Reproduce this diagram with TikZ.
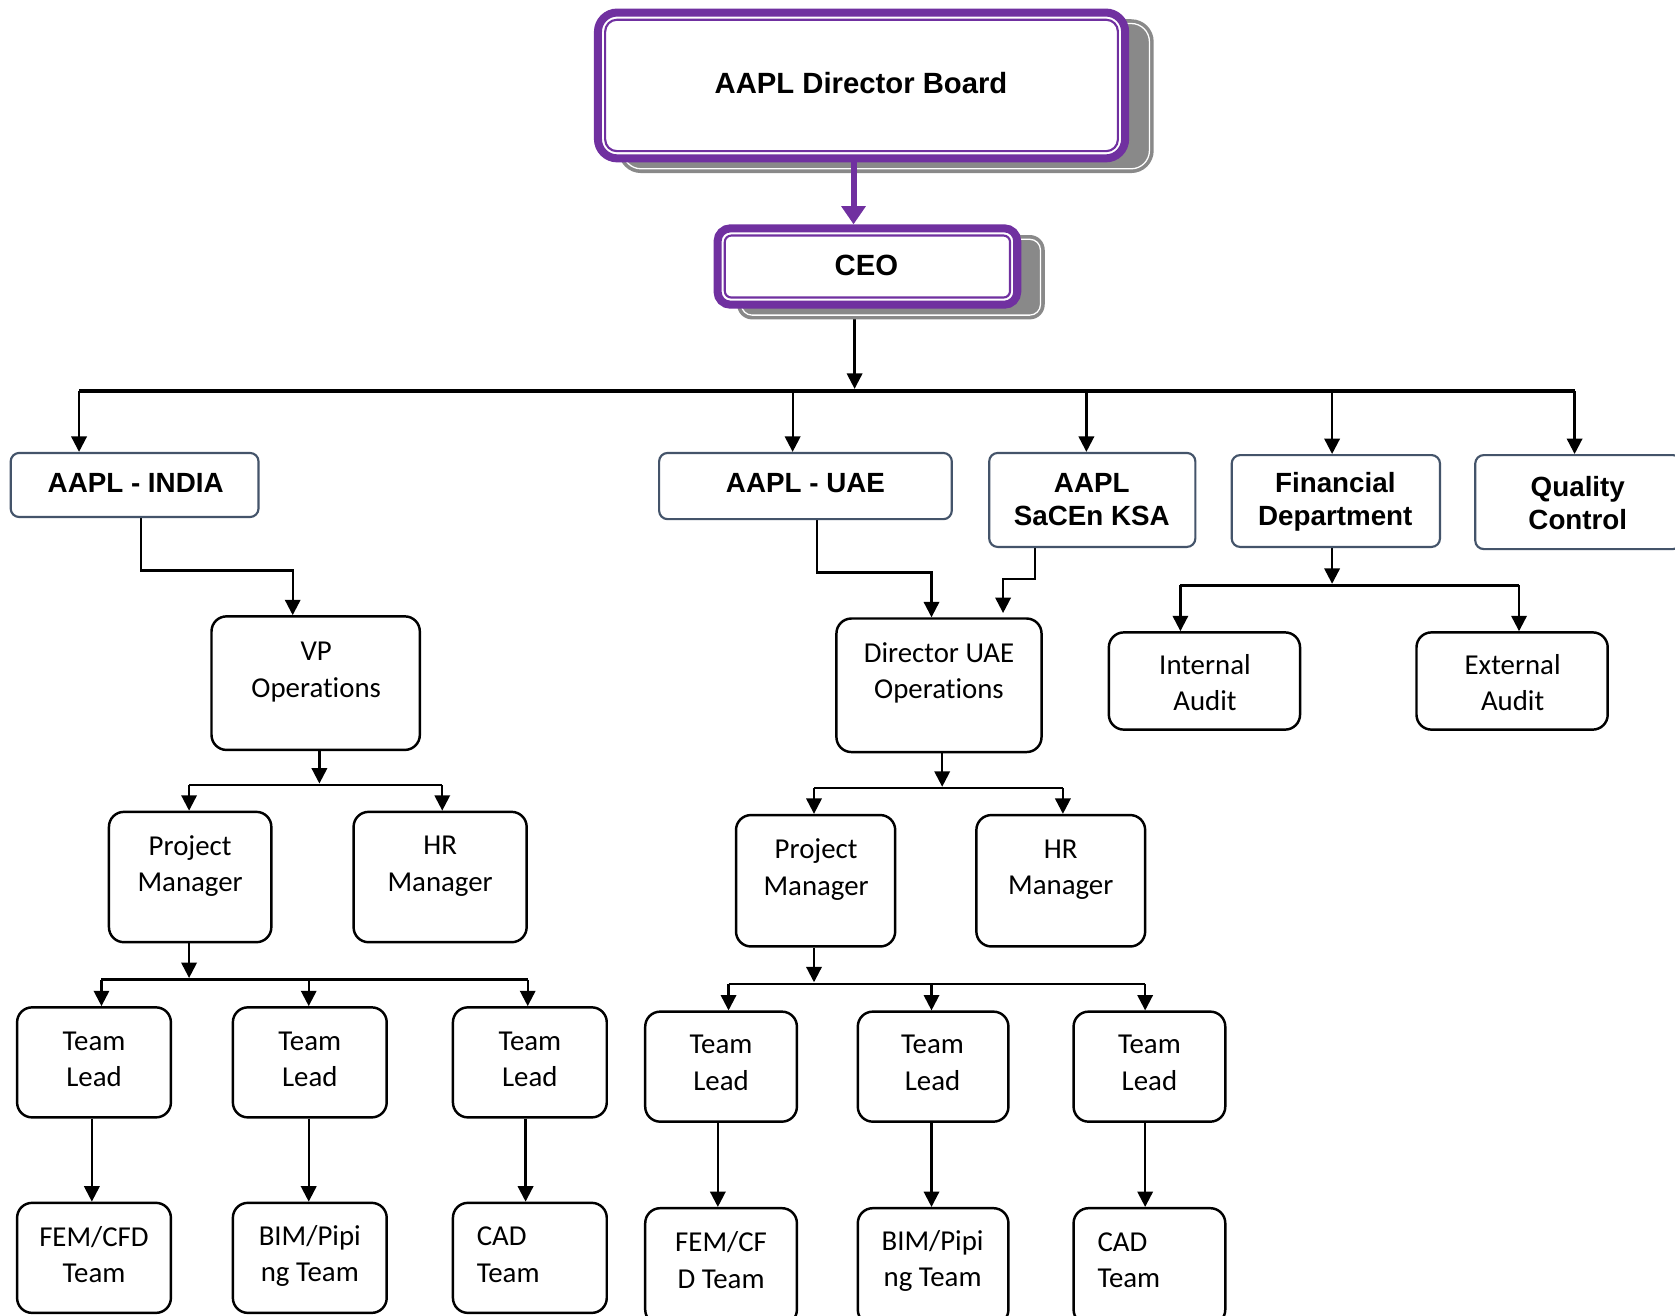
\documentclass[tikz,border=0pt]{standalone}
\usepackage{fontspec}
\setmainfont{Carlito}[Ligatures={NoCommon}]
\newfontfamily\arialfont{Liberation Sans}
\usetikzlibrary{arrows.meta,fit}
\pgfdeclarelayer{bglayer}
\pgfdeclarelayer{connlayer}
\pgfdeclarelayer{shadlayer}
\pgfsetlayers{bglayer,connlayer,shadlayer,main}
\definecolor{purp}{RGB}{112,48,160}
\definecolor{slate}{RGB}{68,84,106}
\definecolor{shadgray}{RGB}{137,137,137}
\begin{document}
\begin{tikzpicture}[x=0.5pt,y=-0.5pt,
  bthree/.style={draw=black, line width=1.15pt, rounded corners=7pt, fill=white, inner sep=0pt},
  btwo/.style={draw=slate, line width=1pt, rounded corners=4pt, fill=white, inner sep=0pt},
  rt/.style={font=\fontsize{13.5}{17}\selectfont, align=center, inner sep=0pt},
  bt/.style={font=\arialfont\bfseries\fontsize{13}{15.5}\selectfont, align=center, inner sep=0pt},
  arr/.style={line width=1.05pt, -{Triangle[width=7.2pt,length=7.2pt]}},
  ln/.style={line width=1.05pt},
  busline/.style={line width=1.6pt},
]
\begin{pgfonlayer}{bglayer}
\fill[white] (0,0) rectangle (1568,1231);
\end{pgfonlayer}
\useasboundingbox (0,0) rectangle (1568,1231);
\clip (0,0) rectangle (1568,1231);

% ---------- top boxes ----------
\begin{pgfonlayer}{shadlayer}
\fill[shadgray, rounded corners=10.5pt] (579,18) rectangle (1080,162);
\draw[white, line width=0.6pt, rounded corners=8.5pt] (583,22) rectangle (1076,158);
\fill[shadgray, rounded corners=7pt] (690,220) rectangle (978,299);
\draw[white, line width=0.6pt, rounded corners=5pt] (694,224) rectangle (974,295);
\end{pgfonlayer}

\node[fit={(559.75,11.75)(1053.25,148.25)}, draw=purp, line width=3.75pt, rounded corners=9pt, fill=white, inner sep=0pt] (board) {};
\draw[purp, line width=1pt, rounded corners=5.5pt] (566.5,18.5) rectangle (1046.5,141.5);
\node[bt, font=\arialfont\bfseries\fontsize{13.7}{16}\selectfont] (boardT) at (806,78) {AAPL Director Board};

\node[fit={(671.75,213.75)(952.25,285.25)}, draw=purp, line width=3.75pt, rounded corners=6pt, fill=white, inner sep=0pt] (ceo) {};
\draw[purp, line width=1pt, rounded corners=3pt] (678.5,220.5) rectangle (945.5,278.5);
\node[bt, font=\arialfont\bfseries\fontsize{13.7}{16}\selectfont] (ceoT) at (811,248) {CEO};

\coordinate (px) at (799,0);
\draw[purp, line width=2.8pt, -{Triangle[width=11pt,length=8.5pt]}] (board.south -| px) -- (ceo.north -| px);

% ---------- level 2 ----------
\node[btwo, fit={(10,424)(242,484)}] (india) {};
\node[btwo, fit={(617,424)(891,486)}] (uae) {};
\node[btwo, fit={(926,424)(1119,512)}] (ksa) {};
\node[btwo, fit={(1153,426)(1348,512)}] (fin) {};
\node[btwo, fit={(1381,426)(1574,514)}] (qc) {};
\node[bt] (indiaT) at (127,452) {AAPL - INDIA};
\node[bt] (uaeT) at (754,452) {AAPL - UAE};
\node[bt] (ksaT) at (1022,468) {AAPL\\SaCEn KSA};
\node[bt] (finT) at (1250,470) {Financial\\Department};
\node[bt] (qcT) at (1477,471) {Quality\\Control};

% ---------- level 3 boxes ----------
\node[bthree, fit={(198,577)(393,702)}] (vp) {};
\node[bthree, fit={(102,760)(254,882)}] (pmI) {};
\node[bthree, fit={(331,760)(493,882)}] (hrI) {};
\node[bthree, fit={(16,943)(160,1046)}] (tlIa) {};
\node[bthree, fit={(218,943)(362,1046)}] (tlIb) {};
\node[bthree, fit={(424,943)(568,1046)}] (tlIc) {};
\node[bthree, fit={(16,1126)(160,1229)}] (tmIa) {};
\node[bthree, fit={(218,1126)(362,1229)}] (tmIb) {};
\node[bthree, fit={(424,1126)(568,1229)}] (tmIc) {};

\node[bthree, fit={(783,579)(975,704)}] (dir) {};
\node[bthree, fit={(689,763)(838,886)}] (pmU) {};
\node[bthree, fit={(914,763)(1072,886)}] (hrU) {};
\node[bthree, fit={(604,947)(746,1050)}] (tlUa) {};
\node[bthree, fit={(803,947)(944,1050)}] (tlUb) {};
\node[bthree, fit={(1005,947)(1147,1050)}] (tlUc) {};
\node[bthree, fit={(604,1131)(746,1240)}] (tmUa) {};
\node[bthree, fit={(803,1131)(944,1240)}] (tmUb) {};
\node[bthree, fit={(1005,1131)(1147,1240)}] (tmUc) {};

\node[bthree, fit={(1038,592)(1217,683)}] (ia) {};
\node[bthree, fit={(1326,592)(1505,683)}] (ea) {};

% ---------- texts ----------
\node[rt] (vpT) at (296,629) {VP\\Operations};
\node[rt] (pmIT) at (178,811) {Project\\Manager};
\node[rt] (hrIT) at (412,811) {HR\\Manager};
\node[rt] (tlIaT) at (88,991.5) {Team\\Lead};
\node[rt] (tlIbT) at (290,991.5) {Team\\Lead};
\node[rt] (tlIcT) at (496,991.5) {Team\\Lead};
\node[rt] (tmIaT) at (88,1174.5) {FEM/CFD\\Team};
\node[rt] (tmIbT) at (290,1175.5) {BIM/Pipi\\ng Team};
\node[rt, align=left, anchor=west] (tmIcT) at (446,1174.5) {CAD\\Team};

\node[rt] (dirT) at (879,630) {Director UAE\\Operations};
\node[rt] (pmUT) at (764,814) {Project\\Manager};
\node[rt] (hrUT) at (993,814) {HR\\Manager};
\node[rt] (tlUaT) at (675,995) {Team\\Lead};
\node[rt] (tlUbT) at (873,995) {Team\\Lead};
\node[rt] (tlUcT) at (1076,995) {Team\\Lead};
\node[rt] (tmUaT) at (675,1179.5) {FEM/CF\\D Team};
\node[rt] (tmUbT) at (873,1180.5) {BIM/Pipi\\ng Team};
\node[rt, align=left, anchor=west] (tmUcT) at (1027,1179.5) {CAD\\Team};

\node[rt] (iaT) at (1128,639) {Internal\\Audit};
\node[rt] (eaT) at (1416,639) {External\\Audit};

% ---------- connectors ----------
\begin{pgfonlayer}{connlayer}
\coordinate (b0) at (800,364);
\coordinate (b1) at (74,366);
\coordinate (b2) at (742,366);
\coordinate (b3) at (1017,366);
\coordinate (b4) at (1247,366);
\coordinate (b5) at (1474,366);
\draw[arr] (ceo.south -| b0) -- (b0);
\draw[busline] (b1) -- (b5);
\draw[arr] (b1) -- (b1 |- india.north);
\draw[arr] (b2) -- (b2 |- uae.north);
\draw[arr] (b3) -- (b3 |- ksa.north);
\draw[arr] (b4) -- (b4 |- fin.north);
\draw[arr] (b5) -- (b5 |- qc.north);

\coordinate (ja) at (274,534);
\draw[arr] ([xshift=3pt]india.south) |- (ja) -- (ja |- vp.north);
\coordinate (jb) at (872,536);
\draw[arr] ([xshift=5.5pt]uae.south) |- (jb) -- (jb |- dir.north);
\coordinate (jc) at (939,542);
\draw[arr] ([xshift=-26.75pt]ksa.south) |- (jc) -- ([yshift=2pt]jc |- dir.north);

\coordinate (jd) at (1247,546.5);
\coordinate (jda) at (1105,548);
\coordinate (jdb) at (1422,548);
\draw[arr] (fin.south -| jd) -- (jd);
\draw[ln] (jda) -- (jdb);
\draw[arr] (jda) -- (jda |- ia.north);
\draw[arr] (jdb) -- (jdb |- ea.north);

\coordinate (je) at (299,733.5);
\coordinate (jea) at (177,735);
\coordinate (jeb) at (414,735);
\draw[arr] (vp.south -| je) -- (je);
\draw[ln] (jea) -- (jeb);
\draw[arr] (jea) -- (jea |- pmI.north);
\draw[arr] (jeb) -- (jeb |- hrI.north);

\coordinate (jf) at (882,736.5);
\coordinate (jfa) at (762,738);
\coordinate (jfb) at (995,738);
\draw[arr] (dir.south -| jf) -- (jf);
\draw[ln] (jfa) -- (jfb);
\draw[arr] (jfa) -- (jfa |- pmU.north);
\draw[arr] (jfb) -- (jfb |- hrU.north);

\coordinate (jg) at (177,915.5);
\coordinate (jga) at (95,917);
\coordinate (jgb) at (289,917);
\coordinate (jgc) at (494,917);
\draw[arr] (pmI.south -| jg) -- (jg);
\draw[ln] (jga) -- (jgc);
\draw[arr] (jga) -- (jga |- tlIa.north);
\draw[arr] (jgb) -- (jgb |- tlIb.north);
\draw[arr] (jgc) -- (jgc |- tlIc.north);

\coordinate (jh) at (762,919.5);
\coordinate (jha) at (682,921);
\coordinate (jhb) at (872,921);
\coordinate (jhc) at (1072,921);
\draw[arr] (pmU.south -| jh) -- (jh);
\draw[ln] (jha) -- (jhc);
\draw[arr] (jha) -- (jha |- tlUa.north);
\draw[arr] (jhb) -- (jhb |- tlUb.north);
\draw[arr] (jhc) -- (jhc |- tlUc.north);

\draw[arr] ([xshift=-1pt]tlIa.south) -- ([xshift=-1pt]tmIa.north);
\draw[arr] ([xshift=-0.5pt]tlIb.south) -- ([xshift=-0.5pt]tmIb.north);
\draw[arr] ([xshift=-2pt]tlIc.south) -- ([xshift=-2pt]tmIc.north);
\draw[arr] ([xshift=-1.5pt]tlUa.south) -- ([xshift=-1.5pt]tmUa.north);
\draw[arr] ([xshift=-0.75pt]tlUb.south) -- ([xshift=-0.75pt]tmUb.north);
\draw[arr] ([xshift=-2pt]tlUc.south) -- ([xshift=-2pt]tmUc.north);
\end{pgfonlayer}
\end{tikzpicture}
\end{document}
